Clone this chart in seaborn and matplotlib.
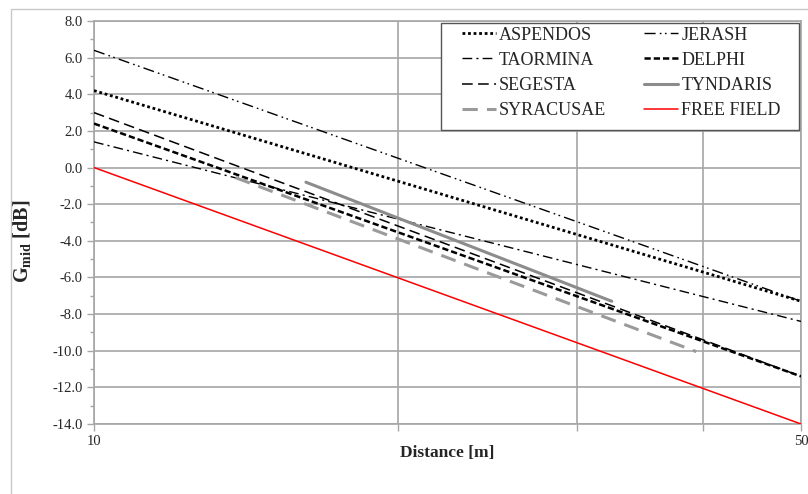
import numpy as np
import pandas as pd
import matplotlib
matplotlib.use("Agg")
import matplotlib.pyplot as plt
import matplotlib.patches as mpatches
from matplotlib.ticker import FixedLocator, NullLocator, MultipleLocator
import seaborn as sns

# straight-line fits (G vs log distance): start / end points
theatres = ["ASPENDOS", "TAORMINA", "SEGESTA", "SYRACUSAE",
            "JERASH", "DELPHI", "TYNDARIS", "FREE FIELD"]
dist_start = [10.0, 10.0, 10.0, 13.8, 10.0, 10.0, 16.2, 10.0]
dist_end = [50.0, 50.0, 50.0, 39.4, 50.0, 50.0, 32.5, 50.0]
g_start = [4.2, 1.4, 3.0, -0.55, 6.4, 2.4, -0.8, 0.0]
g_end = [-7.3, -8.4, -11.4, -10.05, -7.3, -11.4, -7.3, -14.0]

styles = {
    "ASPENDOS": dict(color="black", lw=2.0, ls=(0, (1, 1))),
    "TAORMINA": dict(color="black", lw=1.0, ls=(0, (7, 3, 1.5, 3))),
    "SEGESTA": dict(color="black", lw=1.1, ls=(0, (7, 3.5))),
    "SYRACUSAE": dict(color="#9a9a9a", lw=2.2, ls=(0, (5, 3))),
    "JERASH": dict(color="black", lw=1.0, ls=(0, (8, 3, 1.2, 2.5, 1.2, 3))),
    "DELPHI": dict(color="black", lw=1.8, ls=(0, (2.5, 1.2))),
    "TYNDARIS": dict(color="#8c8c8c", lw=2.2, ls="-"),
    "FREE FIELD": dict(color="#ff0000", lw=1.1, ls="-"),
}

rows = []
for name, d0, d1, g0, g1 in zip(theatres, dist_start, dist_end, g_start, g_end):
    rows.append((name, d0, g0))
    rows.append((name, d1, g1))
df = pd.DataFrame(rows, columns=["Theatre", "Distance", "G"])

sns.set_style("white")
plt.rcParams["font.family"] = ["Liberation Serif", "DejaVu Serif"]
plt.rcParams["mathtext.fontset"] = "custom"
plt.rcParams["mathtext.rm"] = "Liberation Serif"
plt.rcParams["mathtext.bf"] = "Liberation Serif:bold"

fig = plt.figure(figsize=(8.08, 4.94), dpi=100)
ax = fig.add_axes([94 / 808, 1 - 424 / 494, (801 - 94) / 808, (424 - 21) / 494])

grid_c = "#a6a6a6"
ax.set_xscale("log")
for name in theatres:
    s = styles[name]
    sns.lineplot(data=df[df["Theatre"] == name], x="Distance", y="G", ax=ax,
                 color=s["color"], linewidth=s["lw"], linestyle=s["ls"],
                 label=name, zorder=3)

ax.set_xlim(10, 50)
ax.set_ylim(-14, 8)
ax.xaxis.set_major_locator(FixedLocator([10, 20, 30, 40, 50]))
ax.xaxis.set_minor_locator(NullLocator())
ax.set_xticklabels(["10", "", "", "", "50"])
ax.yaxis.set_major_locator(MultipleLocator(2))
ax.yaxis.set_minor_locator(MultipleLocator(1))
ax.set_yticklabels([f"{v:.1f}" for v in ax.get_yticks()])

ax.grid(True, which="major", color=grid_c, lw=1.2)
for sp in ax.spines.values():
    sp.set_color(grid_c)
    sp.set_linewidth(1.2)
ax.tick_params(axis="both", which="major", direction="out", length=5, width=1,
               color=grid_c, labelsize=10.5, pad=3, left=True, bottom=True)
ax.tick_params(axis="y", which="minor", direction="out", length=3, width=1,
               color=grid_c, left=True)

ax.set_xlabel("Distance [m]", fontsize=12.5, fontweight="bold")
ax.xaxis.set_label_coords(0.5, -0.052)
ax.set_ylabel(r"$\mathbf{G_{mid}}$ [dB]", fontsize=14.5, fontweight="bold")
ax.yaxis.set_label_coords(-0.086, 0.454)

# legend box with wider side padding than top/bottom, like the original
box = mpatches.Rectangle((0.4908, 0.7295), 0.5064, 0.2655, transform=ax.transAxes,
                         facecolor="white", edgecolor="#555555", lw=1.0, zorder=4)
ax.add_patch(box)
leg = ax.legend(loc="upper left", bbox_to_anchor=(0.5205, 0.986), ncol=2,
                fontsize=13, frameon=False, handlelength=1.9, handletextpad=0.15,
                labelspacing=0.45, columnspacing=2.1, borderaxespad=0.0,
                borderpad=0.0)
leg.set_zorder(5)

fig.patches.append(mpatches.Rectangle((11 / 808, -0.1), 1.0, (494 - 9) / 494 + 0.1,
                                      transform=fig.transFigure, fill=False,
                                      edgecolor="#c8c8c8", lw=1.0))

fig.savefig("out.png", dpi=100)
